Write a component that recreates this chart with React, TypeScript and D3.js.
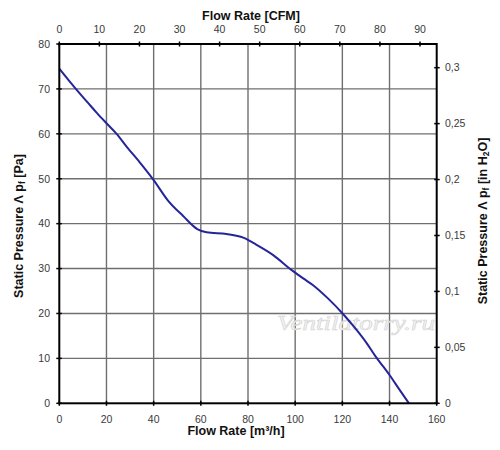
import React from "react";
import * as d3 from "d3";

const flowM3h = [0, 4, 8, 12, 16, 20.1, 24.3, 28.6, 34.2, 40, 46, 52.5, 58.5, 62.4, 70.9, 78, 83.6, 90.7, 98.4, 103.4, 107.6, 114, 120.1, 125, 130.3, 134, 137.3, 140, 144, 148.2];
const pressurePa = [74.5, 71.9, 69.4, 67.0, 64.6, 62.3, 60.0, 57.1, 53.6, 49.7, 45.2, 41.7, 38.8, 38.1, 37.7, 36.9, 35.3, 33.0, 29.7, 27.8, 26.3, 23.3, 20.0, 17.0, 13.4, 10.5, 8.2, 6.3, 3.2, 0];

const bottomTicks = [0, 20, 40, 60, 80, 100, 120, 140, 160];
const leftTicks = [0, 10, 20, 30, 40, 50, 60, 70, 80];
const topTicks = [0, 10, 20, 30, 40, 50, 60, 70, 80, 90];
const rightTicks = [0, 0.05, 0.1, 0.15, 0.2, 0.25, 0.3];
const rightTickLabels = ["0", "0,05", "0,1", "0,15", "0,2", "0,25", "0,3"];

const M3H_TO_CFM = 0.588578;
const PA_TO_INH2O = 0.0040146;

export default function App() {
  const W = 500, H = 450;
  const left = 59.3, right = 436.7, top = 44, bottom = 403.3;
  const x = d3.scaleLinear().domain([0, 160]).range([left, right]);
  const y = d3.scaleLinear().domain([0, 80]).range([bottom, top]);
  const xTop = d3.scaleLinear().domain([0, 160 * M3H_TO_CFM]).range([left, right]);
  const yRight = d3.scaleLinear().domain([0, 80 * PA_TO_INH2O]).range([bottom, top]);

  const pts: [number, number][] = flowM3h.map((f, i) => [f, pressurePa[i]]);
  const line = d3.line<[number, number]>()
    .x(d => x(d[0]))
    .y(d => y(d[1]))
    .curve(d3.curveMonotoneX);

  const font = "'Liberation Sans', Arial, sans-serif";
  const tickColor = "#3a3a3a";
  const tickSize = 10.5;

  return (
    <svg width={W} height={H} style={{ position: "absolute", left: 0, top: 0, background: "#fff" }} fontFamily={font}>
      <rect x={0} y={0} width={W} height={H} fill="#fff" />
      {/* grid */}
      {bottomTicks.slice(1, -1).map(t => (
        <line key={"gx" + t} x1={x(t)} x2={x(t)} y1={top} y2={bottom} stroke="#6f6f6f" strokeWidth={1.4} />
      ))}
      {leftTicks.slice(1, -1).map(t => (
        <line key={"gy" + t} x1={left} x2={right} y1={y(t)} y2={y(t)} stroke="#6f6f6f" strokeWidth={1.4} />
      ))}
      {/* watermark */}
      <text x={277} y={330} fontFamily="'Liberation Serif', 'Times New Roman', serif" fontStyle="italic" fontSize={22}
        textLength={158} lengthAdjust="spacingAndGlyphs" fill="#f3f3f3" stroke="#d4d4d4" strokeWidth={0.6}>Ventilatorry.ru</text>
      {/* curve */}
      <path d={line(pts) || ""} fill="none" stroke="#25259a" strokeWidth={2} />
      {/* frame */}
      <rect x={left} y={top} width={right - left} height={bottom - top} fill="none" stroke="#000" strokeWidth={2} />
      {/* bottom axis */}
      {bottomTicks.map(t => (
        <g key={"bt" + t}>
          <line x1={x(t)} x2={x(t)} y1={bottom - 2.5} y2={bottom + 2.5} stroke="#000" strokeWidth={1.5} />
          <text x={x(t)} y={423} textAnchor="middle" fontSize={tickSize} fill={tickColor}>{t}</text>
        </g>
      ))}
      {/* left axis */}
      {leftTicks.map(t => (
        <g key={"lt" + t}>
          <line x1={left - 3} x2={left + 2.5} y1={y(t)} y2={y(t)} stroke="#000" strokeWidth={1.5} />
          <text x={50} y={y(t) + 3.8} textAnchor="end" fontSize={tickSize} fill={tickColor}>{t}</text>
        </g>
      ))}
      {/* top axis */}
      {topTicks.map(t => (
        <g key={"tt" + t}>
          <line x1={xTop(t)} x2={xTop(t)} y1={top - 2.5} y2={top + 2.5} stroke="#000" strokeWidth={1.5} />
          <text x={xTop(t)} y={33} textAnchor="middle" fontSize={tickSize} fill={tickColor}>{t}</text>
        </g>
      ))}
      {/* right axis */}
      {rightTicks.map((t, i) => (
        <g key={"rt" + t}>
          <line x1={right - 2.5} x2={right + 3} y1={yRight(t)} y2={yRight(t)} stroke="#000" strokeWidth={1.5} />
          <text x={445} y={yRight(t) + 3.8} textAnchor="start" fontSize={tickSize} fill={tickColor}>{rightTickLabels[i]}</text>
        </g>
      ))}
      {/* titles */}
      <text x={251} y={20} textAnchor="middle" fontSize={12.5} fontWeight="bold" fill="#111">Flow Rate [CFM]</text>
      <text x={236} y={435} textAnchor="middle" fontSize={12.5} fontWeight="bold" fill="#111">Flow Rate [m³/h]</text>
      <text transform="translate(23,226) rotate(-90)" textAnchor="middle" fontSize={12.5} fontWeight="bold" fill="#111">
        Static Pressure Λ p<tspan fontSize={8.5} dy={2}>f</tspan><tspan dy={-2}> [Pa]</tspan>
      </text>
      <text transform="translate(487,221) rotate(-90)" textAnchor="middle" fontSize={12.5} fontWeight="bold" fill="#111">
        Static Pressure Λ p<tspan fontSize={8.5} dy={2}>f</tspan><tspan dy={-2}> [in H</tspan><tspan fontSize={8.5} dy={2}>2</tspan><tspan dy={-2}>O]</tspan>
      </text>
    </svg>
  );
}
